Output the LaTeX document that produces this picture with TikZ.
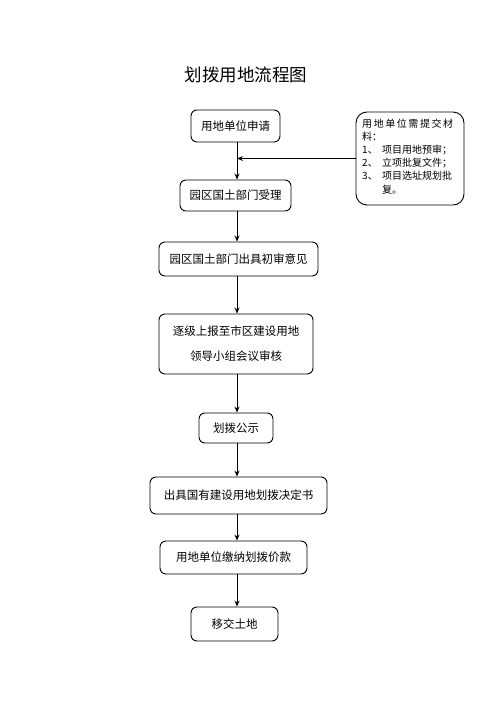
\documentclass[tikz,border=0pt]{standalone}
\usepackage{fontspec}
\setmainfont{Noto Sans CJK SC}
\usetikzlibrary{arrows.meta}
\begin{document}
\begin{tikzpicture}[x=1pt,y=-1pt,
  box/.style={draw,line width=0.9pt,rounded corners=6pt,inner sep=0pt,font=\fontsize{11.5}{13}\selectfont},
  arr/.style={line width=0.9pt,-{Stealth[length=6pt,width=5pt]}}]
\useasboundingbox (0,0) rectangle (496,702);
\node (title) at (246,75) {\fontsize{17.5}{20}\selectfont 划拨用地流程图};
\node[box,minimum width=89pt,minimum height=32pt] (b1) at (235.5,126) {用地单位申请};
\node[box,minimum width=111pt,minimum height=31pt] (b2) at (235.5,195.5) {园区国土部门受理};
\node[box,minimum width=159pt,minimum height=34pt] (b3) at (238.5,259) {园区国土部门出具初审意见};
\node[box,minimum width=154pt,minimum height=60pt,align=center] (b4) at (236,344) {逐级上报至市区建设用地\\[12pt]领导小组会议审核};
\node[box,minimum width=74pt,minimum height=30pt] (b5) at (236,428) {划拨公示};
\node[box,minimum width=177pt,minimum height=37pt] (b6) at (238.5,495.5) {出具国有建设用地划拨决定书};
\node[box,minimum width=147pt,minimum height=33pt] (b7) at (233.5,557.5) {用地单位缴纳划拨价款};
\node[box,minimum width=87pt,minimum height=34pt] (b8) at (234.5,624) {移交土地};
\node[box,rounded corners=11pt,minimum width=108pt,minimum height=93pt] (r) at (410,158.5) {};
\node[anchor=north west,inner sep=0pt,align=left,font=\fontsize{10}{13.2}\selectfont] (rt) at (362,118.5) {%
\makebox[91pt]{用\hfill 地\hfill 单\hfill 位\hfill 需\hfill 提\hfill 交\hfill 材}\\
料：\\
\makebox[20pt][l]{1、}项目用地预审；\\
\makebox[20pt][l]{2、}立项批复文件；\\
\makebox[20pt][l]{3、}项目选址规划批\\
\hspace*{20pt}复。};
\coordinate (ax) at (237,0);
\draw[arr] (b1.south -| ax) -- (b2.north -| ax);
\draw[arr] (r.west) -- (r.west -| ax);
\draw[arr] (b2.south -| ax) -- (b3.north -| ax);
\draw[arr] (b3.south -| ax) -- (b4.north -| ax);
\draw[arr] (b4.south -| ax) -- (b5.north -| ax);
\draw[arr] (b5.south -| ax) -- (b6.north -| ax);
\draw[arr] (b6.south -| ax) -- (b7.north -| ax);
\draw[arr] (b7.south -| ax) -- (b8.north -| ax);
\end{tikzpicture}
\end{document}
